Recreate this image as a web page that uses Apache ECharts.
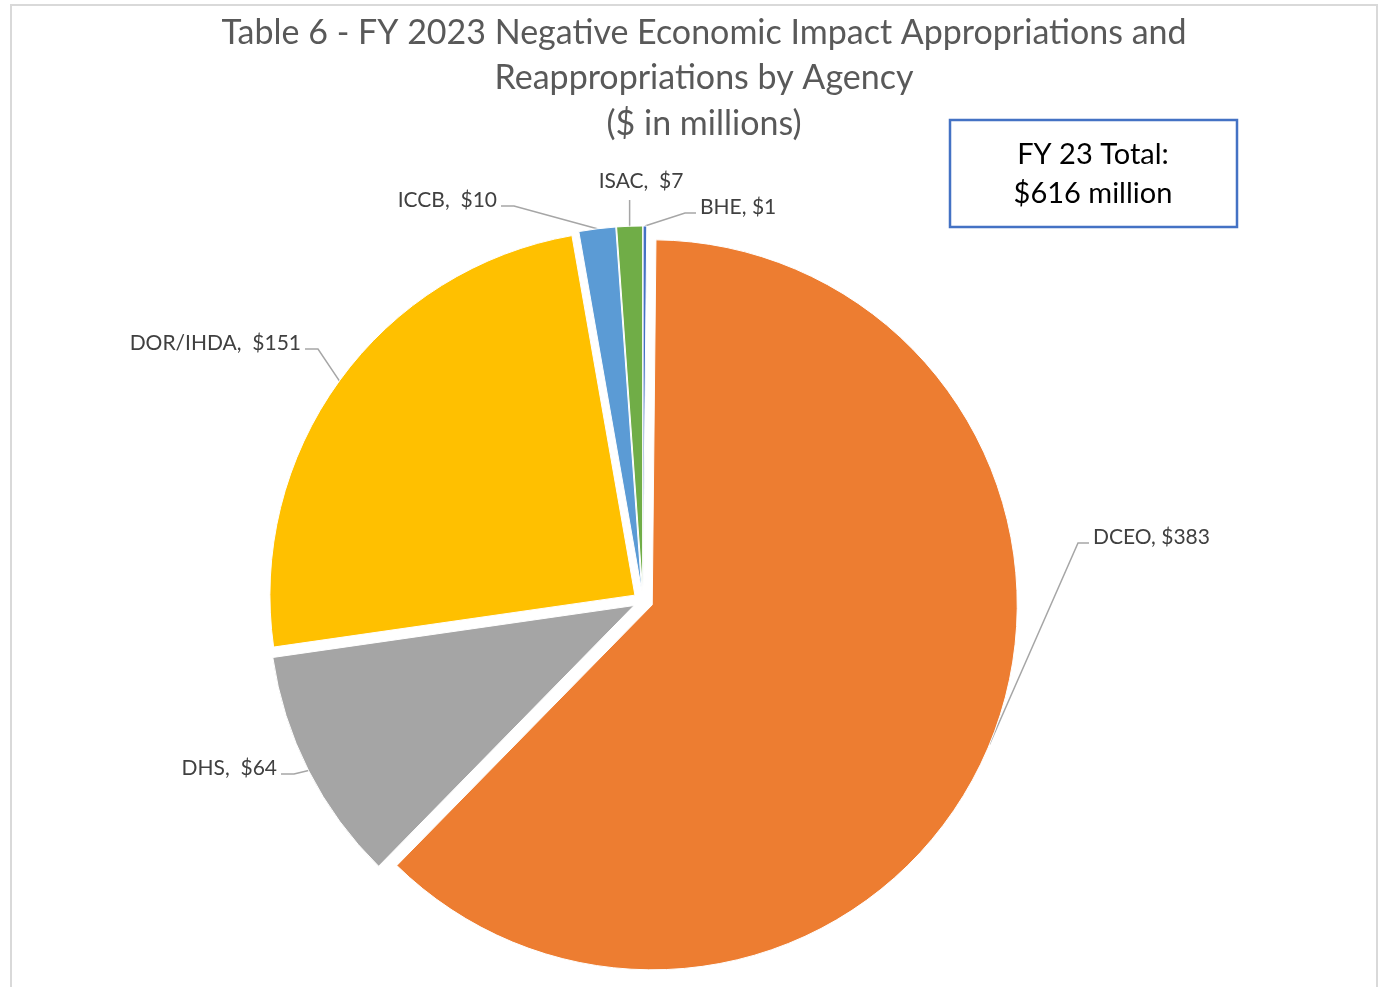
<!DOCTYPE html>
<html><head><meta charset="utf-8">
<script src="https://cdn.jsdelivr.net/npm/echarts@6/dist/echarts.min.js"></script>
<style>html,body{margin:0;padding:0;background:#fff}#c{width:1384px;height:987px}</style>
</head><body><div id="c"></div>
<script>
// ---- data ----
const categories = ['BHE', 'DCEO', 'DHS', 'DOR/IHDA', 'ICCB', 'ISAC'];
const values = [1, 383, 64, 151, 10, 7];
const labelSeparators = [', ', ', ', ',  ', ',  ', ',  ', ',  '];
const titleLines = ['Table 6 - FY 2023 Negative Economic Impact Appropriations and', 'Reappropriations by Agency', '($ in millions)'];
const totalLines = ['FY 23 Total:', '$616 million'];

// ---- styles / layout ----
const colors = ['#4472C4', '#ED7D31', '#A5A5A5', '#FFC000', '#5B9BD5', '#70AD47'];
const labelPlace = [
  {x: 700, y: 207, align: 'left'},
  {x: 1093, y: 537, align: 'left'},
  {x: 277, y: 768, align: 'right'},
  {x: 301, y: 343, align: 'right'},
  {x: 497, y: 200, align: 'right'},
  {x: 641, y: 181, align: 'center'}
];
const FONT = 'Lato, "Open Sans", sans-serif';
const CENTER = [643, 601];
const RADIUS = 365;
const EXPLODE = 10;

const chart = echarts.init(document.getElementById('c'), null, {renderer: 'canvas'});

const graphics = [
  {type: 'rect', shape: {x: 11, y: 5, width: 1366, height: 1010}, style: {fill: 'none', stroke: '#d9d9d9', lineWidth: 2}, silent: true, z: 0},
  {type: 'rect', shape: {x: 950, y: 120, width: 287, height: 107}, style: {fill: '#fff', stroke: '#4472C4', lineWidth: 2.5}, z: 10}
];
titleLines.forEach((t, i) => graphics.push({
  type: 'text', x: 704, y: 33 + i * 45.5, z: 10,
  style: {text: t, fill: '#595959', font: '34px ' + FONT, textAlign: 'center', textVerticalAlign: 'middle'}
}));
totalLines.forEach((t, i) => graphics.push({
  type: 'text', x: 1093, y: 155 + i * 39, z: 11,
  style: {text: t, fill: '#000', font: '29px ' + FONT, textAlign: 'center', textVerticalAlign: 'middle'}
}));

chart.setOption({
  animation: false,
  backgroundColor: '#fff',
  graphic: graphics,
  series: [{
    // exploded slices
    type: 'pie',
    center: CENTER,
    radius: RADIUS,
    startAngle: 90,
    clockwise: true,
    selectedMode: 'multiple',
    selectedOffset: EXPLODE,
    silent: true,
    data: categories.map((n, i) => ({name: n, value: values[i], selected: true, itemStyle: {color: colors[i]}})),
    itemStyle: {borderColor: '#fff', borderWidth: 1},
    select: {itemStyle: {borderColor: '#fff', borderWidth: 1}},
    emphasis: {disabled: true},
    label: {show: false},
    labelLine: {show: false}
  }, {
    // label carrier: same slices, transparent, radius at exploded outer edge
    type: 'pie',
    center: CENTER,
    radius: RADIUS + EXPLODE,
    startAngle: 90,
    clockwise: true,
    silent: true,
    avoidLabelOverlap: false,
    data: categories.map((n, i) => ({name: n, value: values[i]})),
    itemStyle: {color: 'rgba(0,0,0,0)', borderWidth: 0},
    emphasis: {disabled: true},
    label: {
      show: true, position: 'outside', color: '#404040',
      fontFamily: FONT, fontSize: 21,
      formatter: p => p.name + labelSeparators[p.dataIndex] + '$' + p.value
    },
    labelLine: {show: true, length: 10, length2: 10, lineStyle: {color: '#A6A6A6', width: 1.5}},
    labelLayout: function (params) {
      const pl = labelPlace[params.dataIndex];
      const a = params.labelLinePoints[0];
      let pts;
      if (pl.align === 'left') {
        pts = [a, [pl.x - 15, pl.y + 6], [pl.x - 4, pl.y + 6]];
      } else if (pl.align === 'right') {
        pts = [a, [pl.x + 17, pl.y + 6], [pl.x + 4, pl.y + 6]];
      } else {
        pts = [a, [a[0], pl.y + 19], [a[0], pl.y + 19]];
      }
      return {x: pl.x, y: pl.y, align: pl.align, verticalAlign: 'middle', labelLinePoints: pts};
    }
  }]
});
</script></body></html>
